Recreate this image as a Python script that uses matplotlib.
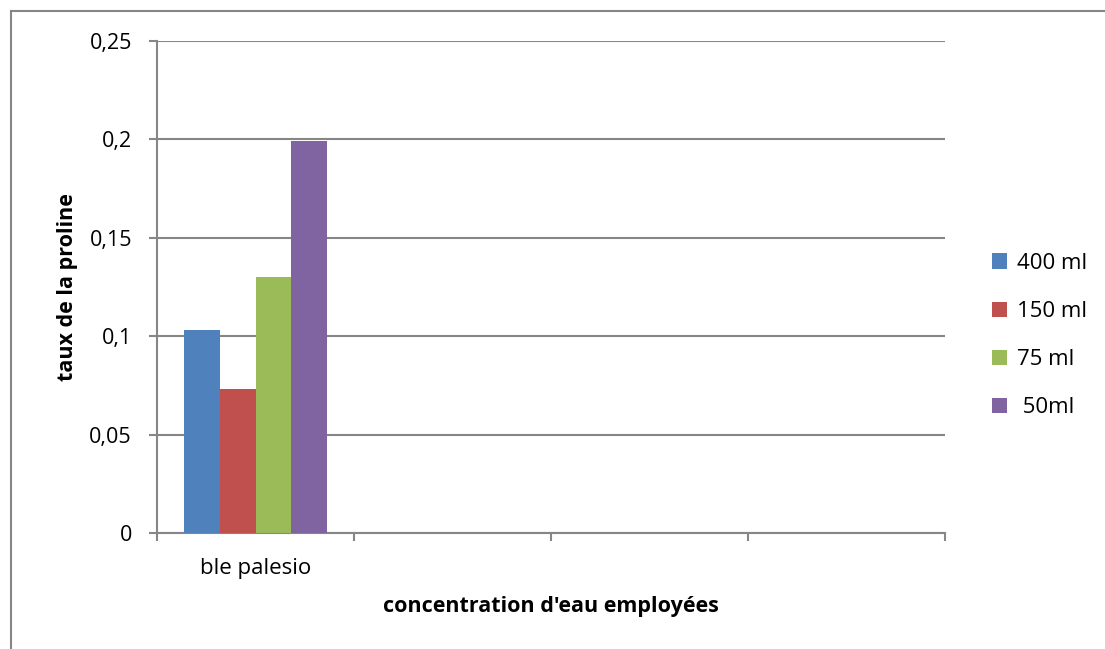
import matplotlib
matplotlib.use("Agg")
import matplotlib.pyplot as plt
from matplotlib.lines import Line2D
import numpy as np

categories = ["ble palesio", "", "", ""]
series_names = ["400 ml", "150 ml", "75 ml", " 50ml"]
series_values = [
    [0.103, None, None, None],
    [0.073, None, None, None],
    [0.130, None, None, None],
    [0.199, None, None, None],
]
colors = ["#4F81BD", "#C0504D", "#9BBB59", "#8064A2"]
yticks = [0, 0.05, 0.1, 0.15, 0.2, 0.25]
ytick_labels = ["0", "0,05", "0,1", "0,15", "0,2", "0,25"]

plt.rcParams["font.family"] = ["Open Sans", "DejaVu Sans"]

W, H = 1105, 649
fig = plt.figure(figsize=(W / 100, H / 100), dpi=100)
ax = fig.add_axes([157 / W, 1 - 533 / H, (945 - 157) / W, (533 - 41) / H])

grid_c = "#868686"
n_cat = len(categories)
n_ser = len(series_names)
group_w = 0.73
bar_w = group_w / n_ser
x = np.arange(n_cat)
for i, (name, vals) in enumerate(zip(series_names, series_values)):
    xs = [x[j] - group_w / 2 + bar_w * (i + 0.5) for j, v in enumerate(vals) if v is not None]
    hs = [v for v in vals if v is not None]
    ax.bar(xs, hs, width=bar_w, color=colors[i], label=name, zorder=3)

ax.set_xlim(-0.5, n_cat - 0.5)
ax.set_ylim(0, 0.25)
ax.set_yticks(yticks)
ax.set_yticklabels(ytick_labels, fontsize=15.5)
ax.yaxis.grid(True, color=grid_c, linewidth=1.5, zorder=0)
ax.set_axisbelow(True)

# category labels centred in slots, ticks on the slot boundaries
ax.set_xticks(x)
ax.set_xticklabels(categories, fontsize=16)
ax.tick_params(axis="x", length=0, pad=18)
ax.set_xticks(np.arange(n_cat + 1) - 0.5, minor=True)
ax.tick_params(axis="x", which="minor", length=6, width=1.5, color=grid_c, direction="out")
ax.tick_params(axis="y", length=6, width=1.5, color=grid_c, direction="out", pad=12)

for side in ["top", "right"]:
    ax.spines[side].set_visible(False)
for side in ["left", "bottom"]:
    ax.spines[side].set_color(grid_c)
    ax.spines[side].set_linewidth(1.5)

ax.set_ylabel("taux de la proline", fontsize=15.5, fontweight="bold", labelpad=8)
ax.set_xlabel("concentration d'eau employées", fontsize=15.5, fontweight="bold", labelpad=12)

leg = fig.legend(loc="upper left", bbox_to_anchor=(983 / W, 1 - 244 / H),
                 frameon=False, fontsize=16, handlelength=0.68, handleheight=0.68,
                 handletextpad=0.45, labelspacing=1.22, borderaxespad=0)

# outer chart frame
fig.add_artist(Line2D([11 / W, 11 / W], [0, 1 - 11 / H], color=grid_c, linewidth=1.5))
fig.add_artist(Line2D([11 / W, 1], [1 - 11 / H, 1 - 11 / H], color=grid_c, linewidth=1.5))

fig.savefig("out.png", dpi=100)
